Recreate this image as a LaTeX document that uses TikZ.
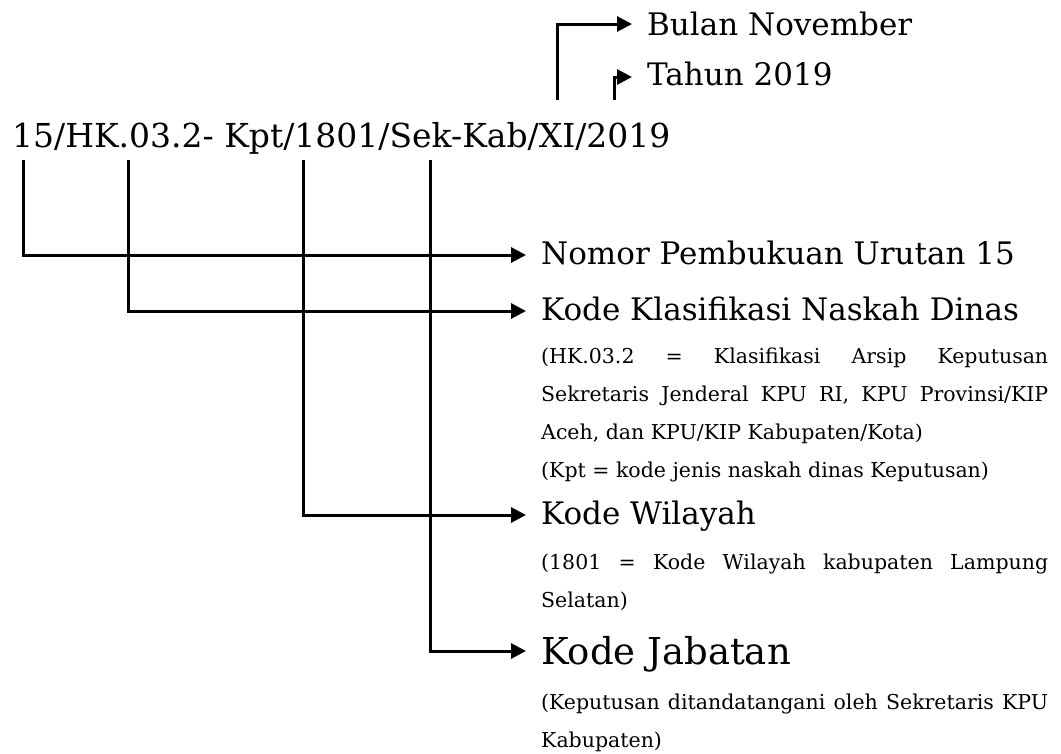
\documentclass[tikz,border=0pt]{standalone}
\usepackage{fontspec}
\setmainfont{DejaVu Serif}
\usetikzlibrary{arrows.meta}
\begin{document}
\begin{tikzpicture}[x=1pt,y=-1pt,
  conn/.style={line width=3pt, -{Triangle[length=15pt,width=15pt]}},
  lab/.style={anchor=base west, inner sep=0pt, font=\fontsize{31}{36}\selectfont},
  note/.style={anchor=base west, inner sep=0pt, text width=507pt, align=justify, font=\fontsize{20.5}{38}\selectfont}]
\useasboundingbox (0,0) rectangle (1061,753);

\node[lab, font=\fontsize{33}{38}\selectfont] (code) at (12,147) {15/HK.03.2- Kpt/1801/Sek-Kab/XI/2019};

\node[lab] (bulan) at (647,35) {Bulan November};
\node[lab] (tahun) at (647,85) {Tahun 2019};
\node[lab] (nomor) at (541,264) {Nomor Pembukuan Urutan 15};
\node[lab] (klas) at (541,320) {Kode Klasifikasi Naskah Dinas};
\node[note] (klasnote) at (541,363) {(HK.03.2 = Klasifikasi Arsip Keputusan\linebreak Sekretaris Jenderal KPU RI, KPU Provinsi/KIP\linebreak Aceh, dan KPU/KIP Kabupaten/Kota)\\(Kpt = kode jenis naskah dinas Keputusan)};
\node[lab] (wil) at (541,524) {Kode Wilayah};
\node[note] (wilnote) at (541,569) {(1801 = Kode Wilayah kabupaten Lampung\linebreak Selatan)};
\node[lab, font=\fontsize{37}{42}\selectfont] (jab) at (541,664) {Kode Jabatan};
\node[note] (jabnote) at (541,709) {(Keputusan ditandatangani oleh Sekretaris KPU\linebreak Kabupaten)};

\coordinate (p1) at (23,160);
\coordinate (p2) at (128,160);
\coordinate (p3) at (303,160);
\coordinate (p4) at (430,160);
\coordinate (pb) at (557,100);
\coordinate (pt) at (614,100);

\draw[conn] (pb) |- ([xshift=-15pt,yshift=11pt]bulan.base west);
\draw[conn] (pt) |- ([xshift=-15pt,yshift=8pt]tahun.base west);
\draw[conn] (p1) |- ([xshift=-15pt,yshift=9pt]nomor.base west);
\draw[conn] (p2) |- ([xshift=-15pt,yshift=9pt]klas.base west);
\draw[conn] (p3) |- ([xshift=-15pt,yshift=9pt]wil.base west);
\draw[conn] (p4) |- ([xshift=-15pt,yshift=13pt]jab.base west);
\end{tikzpicture}
\end{document}
